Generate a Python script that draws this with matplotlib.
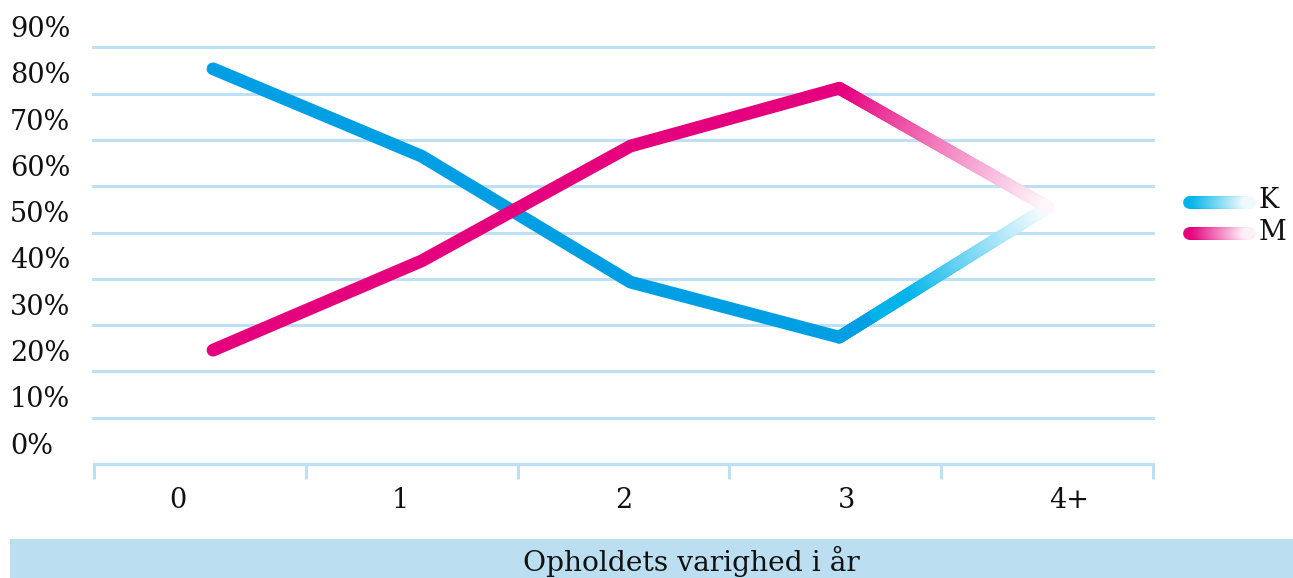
import numpy as np
import matplotlib
matplotlib.use("Agg")
import matplotlib.pyplot as plt
from matplotlib.collections import LineCollection
from matplotlib import transforms
from matplotlib.colors import to_rgb

# ---- data ----
categories = ["0", "1", "2", "3", "4+"]
k_values = [85.4, 66.5, 39.3, 27.4, 55.5]
m_values = [24.6, 43.9, 68.7, 81.2, 55.5]
y_ticks = [0, 10, 20, 30, 40, 50, 60, 70, 80, 90]
y_labels = ["0%", "10%", "20%", "30%", "40%", "50%", "60%", "70%", "80%", "90%"]
series_names = ["K", "M"]
x_title = "Opholdets varighed i år"

# ---- style ----
W, H, DPI = 1293, 578, 100
K_COL = "#009FE3"
K_COL2 = "#00B4EA"
M_COL = "#E5007E"
GRID = "#BEE0F4"
BAND = "#BBDEF0"
TXT = "#111111"
FONT = "DejaVu Serif"
FS = 19.5
LW = 9.2

plt.rcParams["font.family"] = [FONT, "DejaVu Sans"]

fig = plt.figure(figsize=(W / DPI, H / DPI), dpi=DPI)
ax_l, ax_r = 94 / W, 1153 / W
ax_b, ax_t = (H - 464) / H, (H - 47.5) / H
ax = fig.add_axes([ax_l, ax_b, ax_r - ax_l, ax_t - ax_b])
ax.set_xlim(0, 5)
ax.set_ylim(0, 90)
for s in ax.spines.values():
    s.set_visible(False)
ax.set_xticks([])
ax.set_yticks([])

# gridlines
for v in y_ticks[1:]:
    ax.axhline(v, xmin=-1.0 / 1059, xmax=1, color=GRID, lw=2.2, zorder=1, clip_on=False)
# axis line + band ticks
ax.axhline(0, color=GRID, lw=2.4, zorder=1, clip_on=False)
tick_tr = transforms.blended_transform_factory(ax.transData, ax.transAxes)
for b in range(len(categories) + 1):
    ax.plot([b, b], [0, -15 / (464 - 47.5)], color=GRID, lw=2.2,
            transform=tick_tr, clip_on=False, zorder=1, solid_capstyle="butt")

# y labels (left aligned, shifted above gridlines)
ylab_tr = transforms.blended_transform_factory(fig.transFigure, ax.transData) + \
    transforms.ScaledTranslation(0, 18 / DPI, fig.dpi_scale_trans)
for v, lab in zip(y_ticks, y_labels):
    ax.text(10 / W, v, lab, transform=ylab_tr, ha="left", va="center",
            fontsize=FS, color=TXT, family=FONT)

# x labels
for i, lab in enumerate(categories):
    xp = (178 + 222.75 * i) / W
    fig.text(xp, (H - 500) / H, lab, ha="center", va="center",
             fontsize=FS, color=TXT, family=FONT)

# x positions of points (band units)
x0, dx = (213 - 94) / 211.8, 208.75 / 211.8
xs = np.array([x0 + dx * i for i in range(len(categories))])


def blend(c, t):
    c = np.array(to_rgb(c))
    return tuple(c * (1 - t) + np.ones(3) * t)


def draw_series(vals, col, col2, fade_start):
    vals = np.asarray(vals, float)
    # solid part
    ax.plot(xs[:-1], vals[:-1], color=col, lw=LW, solid_capstyle="round",
            solid_joinstyle="round", zorder=3, clip_on=False)
    # gradient last segment
    n = 80
    tt = np.linspace(0, 1, n + 1)
    px = xs[-2] + (xs[-1] - xs[-2]) * tt
    py = vals[-2] + (vals[-1] - vals[-2]) * tt
    segs = [[(px[j], py[j]), (px[j + 1], py[j + 1])] for j in range(n)]
    cols = []
    for j in range(n):
        t = (tt[j] + tt[j + 1]) / 2
        f = np.clip((t - fade_start) / (1 - fade_start), 0, 1)
        base = col2 if t > fade_start * 0.5 else col
        cols.append(blend(base, 0.97 * f ** 0.9))
    lc = LineCollection(segs, colors=cols, linewidths=LW, capstyle="round",
                        zorder=2.5, clip_on=False)
    ax.add_collection(lc)


draw_series(k_values, K_COL, K_COL2, 0.35)
draw_series(m_values, M_COL, M_COL, 0.05)

# legend (gradient swatches)
lax = fig.add_axes([0, 0, 1, 1], facecolor="none")
lax.set_xlim(0, W)
lax.set_ylim(H, 0)
lax.axis("off")
for name, col, yy in [(series_names[0], K_COL2, 202), (series_names[1], M_COL, 233)]:
    xa, xb = 1189, 1249
    n = 40
    gx = np.linspace(xa, xb, n + 1)
    segs = [[(gx[j], yy), (gx[j + 1], yy)] for j in range(n)]
    cols = [blend(col, 0.95 * np.clip(((j + 0.5) / n - 0.1) / 0.9, 0, 1)) for j in range(n)]
    lax.add_collection(LineCollection(segs, colors=cols, linewidths=LW, capstyle="round"))
    lax.text(1259, yy - 1, name, ha="left", va="center", fontsize=FS,
             color=TXT, family=FONT)

# bottom band with axis title
lax.add_patch(plt.Rectangle((10, 539), W - 10, H - 539, color=BAND, lw=0))
lax.text(691, 571, x_title, ha="center", va="baseline", fontsize=FS * 1.04,
         color=TXT, family=FONT)

fig.savefig("out.png", dpi=DPI)
